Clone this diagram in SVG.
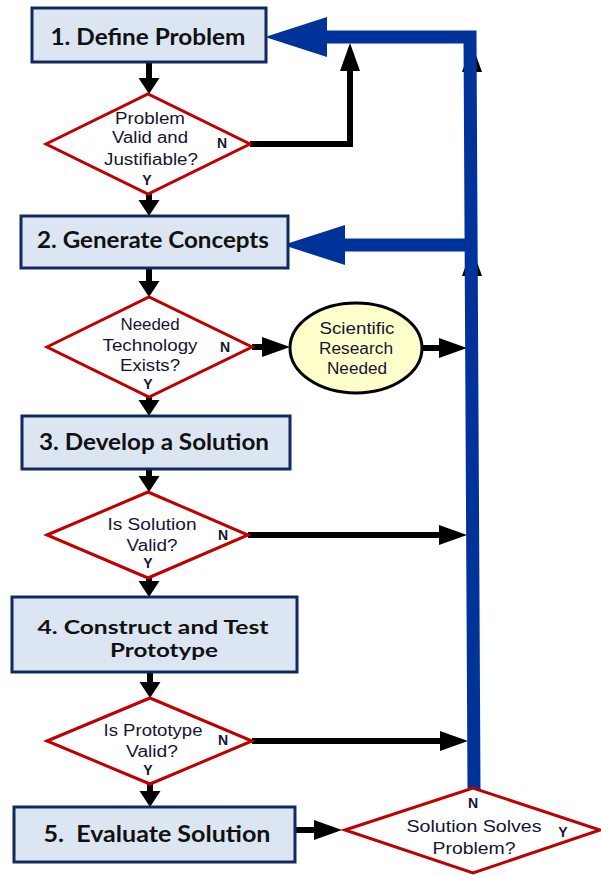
<svg xmlns="http://www.w3.org/2000/svg" width="601" height="875" viewBox="0 0 601 875">
<style>
.box{fill:#DCE6F2;stroke:#12295E;stroke-width:3}
.dia{fill:#FFFFFF;stroke:#C00000;stroke-width:3}
.ell{fill:#FFFFCC;stroke:#000;stroke-width:3}
.bt{font-family:Lato,"Open Sans",sans-serif;font-weight:bold;font-size:22px;fill:#111;text-anchor:middle}
.bt2{font-size:19px}
.dt{font-family:"Liberation Sans",Arial,sans-serif;font-size:16px;fill:#151530;text-anchor:middle}
.yn{font-family:"Liberation Sans",Arial,sans-serif;font-weight:bold;font-size:14px;fill:#151530;text-anchor:middle}
.blk{fill:none;stroke:#000;stroke-width:6}
.blue{fill:none;stroke:#003399;stroke-width:13;stroke-linejoin:miter}
</style>
<defs>
<marker id="hd" markerUnits="userSpaceOnUse" markerWidth="16" markerHeight="21" refX="0" refY="10.5" orient="auto" overflow="visible">
<path d="M0,0 L16,10.5 L0,21 z" fill="#000"/>
</marker>
<marker id="hr" markerUnits="userSpaceOnUse" markerWidth="28" markerHeight="20" refX="0" refY="10" orient="auto" overflow="visible">
<path d="M0,0 L28,10 L0,20 z" fill="#000"/>
</marker>
<marker id="hb" markerUnits="userSpaceOnUse" markerWidth="62" markerHeight="40" refX="0" refY="20" orient="auto" overflow="visible">
<path d="M0,0 L62,20 L0,40 z" fill="#003399"/>
</marker>
</defs>

<g id="connectors">
<path class="blk" d="M149,62 V78" marker-end="url(#hd)"/>
<path class="blk" d="M250,144 H350 V71" marker-end="url(#hr)"/>
<path class="blk" d="M149,194 V200" marker-end="url(#hd)"/>
<path class="blk" d="M149,268 V281" marker-end="url(#hd)"/>
<path class="blk" d="M252,347 H262" marker-end="url(#hr)"/>
<path class="blk" d="M422,348 H439" marker-end="url(#hr)"/>
<path class="blk" d="M149,397 V400" marker-end="url(#hd)"/>
<path class="blk" d="M149,469 V476" marker-end="url(#hd)"/>
<path class="blk" d="M248,535 H439" marker-end="url(#hr)"/>
<path class="blk" d="M149,578 V581" marker-end="url(#hd)"/>
<path class="blk" d="M150,672 V682" marker-end="url(#hd)"/>
<path class="blk" d="M252,741 H440" marker-end="url(#hr)"/>
<path class="blk" d="M150,784 V791" marker-end="url(#hd)"/>
<path class="blk" d="M295,830 H314" marker-end="url(#hr)"/>
<path class="blk" d="M472,90 V72" marker-end="url(#hr)"/>
<path class="blk" d="M472,295 V276" marker-end="url(#hr)"/>
<path class="blue" d="M474,790 L470,37 L327,37" marker-end="url(#hb)"/>
<path class="blue" d="M470,245 L345,245" marker-end="url(#hb)"/>
</g>

<g id="n1">
<rect class="box" x="32" y="8" width="234" height="54"/>
<text class="bt" x="148" y="45" textLength="195" lengthAdjust="spacingAndGlyphs">1. Define Problem</text>
</g>
<g id="d1">
<polygon class="dia" points="46,144 148,94 250,144 148,194"/>
<text class="dt" x="150" y="124" textLength="70" lengthAdjust="spacingAndGlyphs">Problem</text>
<text class="dt" x="150" y="143" textLength="76" lengthAdjust="spacingAndGlyphs">Valid and</text>
<text class="dt" x="151" y="165" textLength="94" lengthAdjust="spacingAndGlyphs">Justifiable?</text>
<text class="yn" x="147" y="185">Y</text>
<text class="yn" x="222" y="148">N</text>
</g>
<g id="n2">
<rect class="box" x="21" y="216" width="267" height="52"/>
<text class="bt" x="153" y="248" textLength="232" lengthAdjust="spacingAndGlyphs">2. Generate Concepts</text>
</g>
<g id="d2">
<polygon class="dia" points="47,347 149,297 252,347 149,397"/>
<text class="dt" x="150" y="330" textLength="59" lengthAdjust="spacingAndGlyphs">Needed</text>
<text class="dt" x="150" y="351" textLength="95" lengthAdjust="spacingAndGlyphs">Technology</text>
<text class="dt" x="150" y="371" textLength="60" lengthAdjust="spacingAndGlyphs">Exists?</text>
<text class="yn" x="148" y="389">Y</text>
<text class="yn" x="225" y="352">N</text>
</g>
<g id="e1">
<ellipse class="ell" cx="356" cy="348" rx="66" ry="45"/>
<text class="dt" x="357" y="334" textLength="75" lengthAdjust="spacingAndGlyphs">Scientific</text>
<text class="dt" x="356" y="354" textLength="74" lengthAdjust="spacingAndGlyphs">Research</text>
<text class="dt" x="357" y="374" textLength="60" lengthAdjust="spacingAndGlyphs">Needed</text>
</g>
<g id="n3">
<rect class="box" x="22" y="416" width="268" height="53"/>
<text class="bt" x="154" y="450" textLength="230" lengthAdjust="spacingAndGlyphs">3. Develop a Solution</text>
</g>
<g id="d3">
<polygon class="dia" points="47,535 148,492 248,535 148,578"/>
<text class="dt" x="152" y="530" textLength="89" lengthAdjust="spacingAndGlyphs">Is Solution</text>
<text class="dt" x="152" y="551" textLength="51" lengthAdjust="spacingAndGlyphs">Valid?</text>
<text class="yn" x="148" y="568">Y</text>
<text class="yn" x="223" y="540">N</text>
</g>
<g id="n4">
<rect class="box" x="12" y="597" width="285" height="75"/>
<text class="bt bt2" x="153" y="634" textLength="231" lengthAdjust="spacingAndGlyphs">4. Construct and Test</text>
<text class="bt bt2" x="164" y="657" textLength="108" lengthAdjust="spacingAndGlyphs">Prototype</text>
</g>
<g id="d4">
<polygon class="dia" points="47,741 150,698 252,741 150,784"/>
<text class="dt" x="153" y="736" textLength="99" lengthAdjust="spacingAndGlyphs">Is Prototype</text>
<text class="dt" x="152" y="757" textLength="52" lengthAdjust="spacingAndGlyphs">Valid?</text>
<text class="yn" x="148" y="775">Y</text>
<text class="yn" x="223" y="745">N</text>
</g>
<g id="n5">
<rect class="box" x="14" y="807" width="281" height="55"/>
<text class="bt" x="157" y="842" textLength="227" lengthAdjust="spacingAndGlyphs" xml:space="preserve">5.  Evaluate Solution</text>
</g>
<g id="d5">
<polygon class="dia" points="345,830 473,788 600,830 473,873"/>
<text class="yn" x="473" y="808">N</text>
<text class="dt" x="474" y="832" textLength="135" lengthAdjust="spacingAndGlyphs">Solution Solves</text>
<text class="dt" x="474" y="854" textLength="83" lengthAdjust="spacingAndGlyphs">Problem?</text>
<text class="yn" x="563" y="837">Y</text>
</g>
</svg>
